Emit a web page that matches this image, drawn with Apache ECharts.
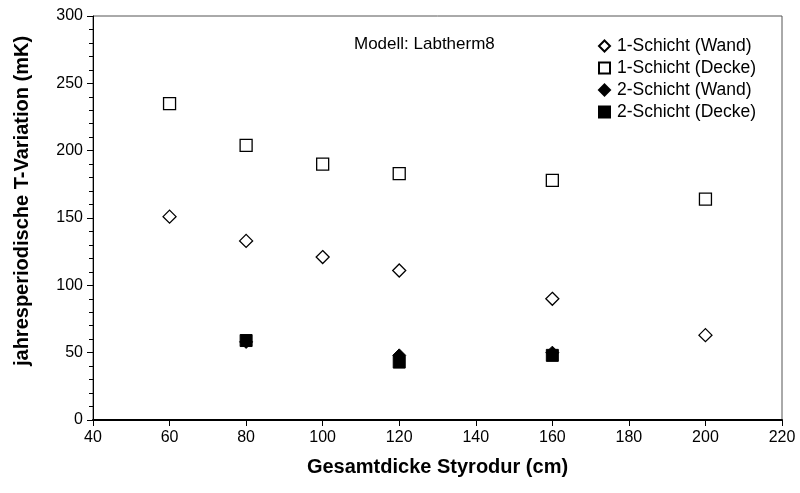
<!DOCTYPE html>
<html>
<head>
<meta charset="utf-8">
<script src="https://cdn.jsdelivr.net/npm/echarts@6/dist/echarts.min.js"></script>
<style>html,body{margin:0;padding:0;background:#fff}#c{width:800px;height:493px}</style>
</head>
<body>
<div id="c"></div>
<script>
const seriesNames = ['1-Schicht (Wand)', '1-Schicht (Decke)', '2-Schicht (Wand)', '2-Schicht (Decke)'];
const x1 = [60, 80, 100, 120, 160, 200];
const wand1 = [151, 133, 121, 111, 90, 63];
const decke1 = [235, 204, 190, 183, 178, 164];
const x2 = [80, 120, 160];
const wand2 = [58, 48, 50];
const decke2 = [59, 43, 48];
const annotation = 'Modell: Labtherm8';
const xTitle = 'Gesamtdicke Styrodur (cm)';
const yTitle = 'jahresperiodische T-Variation (mK)';

const F = 'Liberation Sans, Arial, sans-serif';
const pair = (xs, ys) => xs.map((x, i) => [x, ys[i]]);

const chart = echarts.init(document.getElementById('c'), null, {renderer: 'canvas'});
chart.setOption({
  animation: false,
  backgroundColor: '#fff',
  grid: {left: 93, right: 18, top: 16, bottom: 73, show: true, borderColor: '#555', borderWidth: 1},
  title: {text: annotation, left: 349, top: 31, textStyle: {fontFamily: F, fontSize: 17, fontWeight: 'normal', color: '#000'}},
  legend: {
    orient: 'vertical', left: 593, top: 32, itemGap: 4, itemWidth: 11, itemHeight: 11,
    textStyle: {fontFamily: F, fontSize: 17.5, color: '#000', padding: [0, 0, 0, 2], lineHeight: 18},
    data: seriesNames
  },
  xAxis: {
    type: 'value', min: 40, max: 220, interval: 20,
    name: xTitle, nameLocation: 'middle', nameGap: 37,
    nameTextStyle: {fontFamily: F, fontSize: 20, fontWeight: 'bold', color: '#000'},
    axisLine: {lineStyle: {color: '#000', width: 2}},
    axisTick: {show: true, length: 6, lineStyle: {color: '#000'}},
    axisLabel: {fontFamily: F, fontSize: 16, color: '#000', margin: 10},
    splitLine: {show: false}
  },
  yAxis: {
    type: 'value', min: 0, max: 300, interval: 50,
    name: yTitle, nameLocation: 'middle', nameGap: 61,
    nameTextStyle: {fontFamily: F, fontSize: 20, fontWeight: 'bold', color: '#000', padding: [0, 0, 0, 34]},
    axisLine: {lineStyle: {color: '#000', width: 1}},
    axisTick: {show: true, length: 6, lineStyle: {color: '#000'}},
    minorTick: {show: true, splitNumber: 5, length: 4, lineStyle: {color: '#000'}},
    axisLabel: {fontFamily: F, fontSize: 16, color: '#000', margin: 10},
    splitLine: {show: false}
  },
  series: [
    {name: seriesNames[0], type: 'scatter', symbol: 'diamond', symbolSize: 13,
     itemStyle: {color: '#fff', borderColor: '#000', borderWidth: 1.3, opacity: 1}, data: pair(x1, wand1)},
    {name: seriesNames[1], type: 'scatter', symbol: 'rect', symbolSize: 12,
     itemStyle: {color: '#fff', borderColor: '#000', borderWidth: 1.3, opacity: 1}, data: pair(x1, decke1)},
    {name: seriesNames[2], type: 'scatter', symbol: 'diamond', symbolSize: 13,
     itemStyle: {color: '#000', borderColor: '#000', borderWidth: 1, opacity: 1}, data: pair(x2, wand2)},
    {name: seriesNames[3], type: 'scatter', symbol: 'rect', symbolSize: 12,
     itemStyle: {color: '#000', borderColor: '#000', borderWidth: 1, opacity: 1}, data: pair(x2, decke2)}
  ]
});
</script>
</body>
</html>
